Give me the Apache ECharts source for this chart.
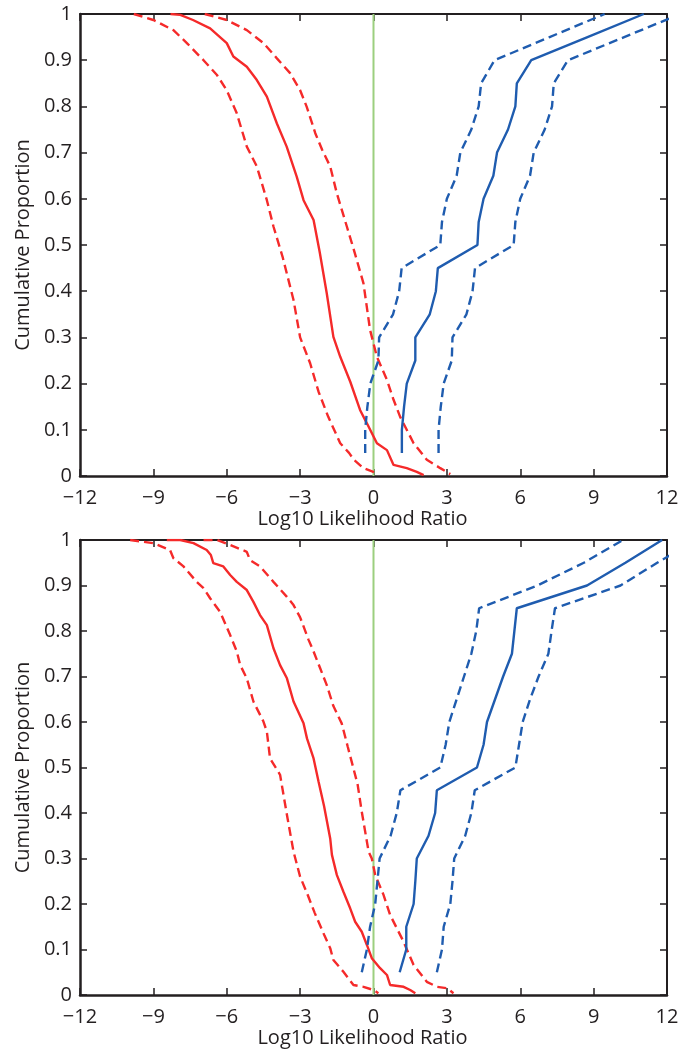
<!DOCTYPE html>
<html>
<head>
<meta charset="utf-8">
<script src="https://cdn.jsdelivr.net/npm/echarts@6/dist/echarts.min.js"></script>
<style>
html,body{margin:0;padding:0;background:#fff;}
#chart{width:699px;height:1051px;}
</style>
</head>
<body>
<div id="chart"></div>
<script>
// ---- data ----
const xTicks = [-12, -9, -6, -3, 0, 3, 6, 9, 12];
const referenceX = 0;

// Top panel: red empirical CDFs [x, proportion]
const topRedMid = [[-8.3,1],[-7.9,0.998],[-7.38,0.987],[-6.68,0.969],[-6.0,0.937],[-5.73,0.908],[-5.18,0.886],[-4.77,0.857],[-4.36,0.821],[-3.95,0.763],[-3.55,0.713],[-3.14,0.648],[-2.86,0.597],[-2.45,0.554],[-2.2,0.485],[-1.91,0.395],[-1.64,0.301],[-1.36,0.258],[-0.95,0.204],[-0.55,0.143],[-0.27,0.114],[0.14,0.071],[0.55,0.056],[0.82,0.024],[1.36,0.017],[1.77,0.009],[2.05,0.002]];
const topRedLo = [[-9.8,1],[-9.0,0.987],[-8.18,0.965],[-7.63,0.937],[-6.95,0.9],[-6.4,0.868],[-6.0,0.835],[-5.59,0.785],[-5.18,0.713],[-4.77,0.67],[-4.36,0.597],[-4.09,0.54],[-3.72,0.475],[-3.27,0.381],[-3.0,0.3],[-2.59,0.244],[-2.25,0.183],[-1.85,0.128],[-1.36,0.071],[-1.0,0.05],[-0.8,0.035],[-0.41,0.017],[0.14,0.006]];
const topRedHi = [[-6.9,1],[-6.0,0.987],[-5.18,0.965],[-4.5,0.937],[-3.95,0.904],[-3.41,0.872],[-3.0,0.835],[-2.73,0.799],[-2.38,0.742],[-2.1,0.706],[-1.77,0.67],[-1.5,0.612],[-1.09,0.54],[-0.8,0.489],[-0.41,0.417],[-0.14,0.316],[0.14,0.258],[0.55,0.208],[0.82,0.165],[1.09,0.128],[1.64,0.071],[2.18,0.035],[2.73,0.017],[3.14,0.004]];

// Blue CDFs sampled at these proportions
const blueP = [0.05,0.1,0.15,0.2,0.25,0.3,0.35,0.4,0.45,0.5,0.55,0.6,0.65,0.7,0.75,0.8,0.85,0.9,0.95,1.0];
const topBlueMid = [1.16,1.16,1.25,1.36,1.71,1.71,2.3,2.55,2.63,4.25,4.3,4.5,4.9,5.05,5.5,5.8,5.86,6.45,8.75,11.05];
const topBlueLo  = [-0.34,-0.34,-0.25,-0.13,0.2,0.23,0.8,1.05,1.15,2.73,2.8,3.0,3.4,3.55,4.0,4.3,4.4,4.95,7.2,9.45];
const topBlueHi  = [2.66,2.66,2.75,2.87,3.2,3.23,3.8,4.05,4.15,5.73,5.8,6.0,6.4,6.55,7.0,7.3,7.37,7.95,10.25,12.55];

// Bottom panel
const botRedMid = [[-8.45,1],[-7.9,1],[-7.36,0.993],[-6.82,0.978],[-6.65,0.967],[-6.55,0.949],[-6.14,0.942],[-5.86,0.923],[-5.59,0.908],[-5.18,0.89],[-4.91,0.864],[-4.64,0.835],[-4.36,0.813],[-4.09,0.762],[-3.82,0.725],[-3.54,0.696],[-3.27,0.645],[-2.86,0.597],[-2.72,0.564],[-2.45,0.52],[-2.25,0.47],[-2.02,0.415],[-1.77,0.344],[-1.7,0.308],[-1.5,0.264],[-1.23,0.227],[-0.95,0.19],[-0.75,0.161],[-0.48,0.139],[-0.27,0.11],[-0.07,0.081],[0.27,0.059],[0.55,0.044],[0.68,0.022],[1.23,0.018],[1.5,0.011],[1.71,0.004]];
const botRedLo = [[-9.95,1],[-9.0,0.993],[-8.32,0.978],[-8.18,0.96],[-7.77,0.942],[-7.23,0.908],[-6.95,0.894],[-6.68,0.872],[-6.27,0.842],[-5.86,0.791],[-5.59,0.755],[-5.45,0.725],[-5.18,0.696],[-4.91,0.645],[-4.5,0.601],[-4.36,0.579],[-4.23,0.52],[-3.82,0.484],[-3.54,0.396],[-3.27,0.315],[-3.0,0.26],[-2.72,0.224],[-2.4,0.18],[-2.0,0.13],[-1.77,0.103],[-1.64,0.077],[-1.23,0.051],[-0.82,0.022],[-0.41,0.018],[0,0.011],[0.2,0.004]];
const botRedHi = [[-6.95,1],[-6.4,1],[-5.86,0.989],[-5.18,0.974],[-5.05,0.956],[-4.64,0.942],[-4.09,0.908],[-3.54,0.875],[-3.27,0.857],[-3.0,0.83],[-2.65,0.78],[-2.45,0.755],[-2.18,0.718],[-1.91,0.681],[-1.64,0.635],[-1.3,0.597],[-1.05,0.545],[-0.82,0.498],[-0.65,0.463],[-0.48,0.403],[-0.2,0.315],[-0.07,0.3],[0.07,0.264],[0.41,0.22],[0.68,0.176],[0.95,0.147],[1.23,0.117],[1.64,0.066],[2.18,0.029],[2.59,0.018],[3.0,0.015],[3.27,0.004]];
const botBlueMid = [1.07,1.34,1.34,1.64,1.71,1.77,2.25,2.52,2.59,4.23,4.5,4.64,4.97,5.3,5.66,5.76,5.86,8.73,10.3,11.8];
const botBlueLo  = [-0.48,-0.27,-0.14,0.07,0.16,0.25,0.7,0.95,1.1,2.73,2.95,3.1,3.4,3.7,4.0,4.2,4.32,6.7,8.6,10.2];
const botBlueHi  = [2.59,2.8,2.87,3.14,3.23,3.3,3.75,4.0,4.14,5.8,5.95,6.1,6.4,6.75,7.15,7.28,7.42,10.1,11.6,13.2];

// ---- styling ----
const RED = '#f52a2a', BLUE = '#1f5caf', GREEN = '#9ccf7f', INK = '#231f20';
const FONT = 'Open Sans';
const minus = v => String(v).replace('-', '\u2212');
const zip = (xs, ps) => xs.map((x, i) => [x, ps[i]]);

const grids = [
  {left: 80, top: 14, width: 587, height: 462},
  {left: 80, top: 540, width: 587, height: 455}
];

function xAxes(gi) {
  return [
    {type:'value', gridIndex:gi, min:-12, max:12, interval:3, position:'bottom',
     axisLine:{onZero:false, lineStyle:{color:INK, width:2.5}},
     axisTick:{inside:true, length:7, lineStyle:{color:INK, width:1.5}},
     axisLabel:{formatter:minus, color:INK, fontSize:20, fontFamily:FONT, margin:12},
     splitLine:{show:false},
     name:'Log10 Likelihood Ratio', nameLocation:'middle', nameGap:32,
     nameTextStyle:{color:INK, fontSize:20, fontFamily:FONT, padding:[0,22,0,0]}},
    {type:'value', gridIndex:gi, min:-12, max:12, interval:3, position:'top',
     axisLine:{onZero:false, lineStyle:{color:INK, width:2}},
     axisTick:{inside:true, length:7, lineStyle:{color:INK, width:1.5}},
     axisLabel:{show:false}, splitLine:{show:false}}
  ];
}
function yAxes(gi) {
  return [
    {type:'value', gridIndex:gi, min:0, max:1, interval:0.1, position:'left',
     axisLine:{onZero:false, lineStyle:{color:INK, width:2.5}},
     axisTick:{inside:true, length:7, lineStyle:{color:INK, width:1.5}},
     axisLabel:{color:INK, fontSize:20, fontFamily:FONT, margin:8},
     splitLine:{show:false},
     name:'Cumulative Proportion', nameLocation:'middle', nameGap:46,
     nameTextStyle:{color:INK, fontSize:20, fontFamily:FONT}},
    {type:'value', gridIndex:gi, min:0, max:1, interval:0.1, position:'right',
     axisLine:{onZero:false, lineStyle:{color:INK, width:2}},
     axisTick:{inside:true, length:7, lineStyle:{color:INK, width:1.5}},
     axisLabel:{show:false}, splitLine:{show:false}}
  ];
}

function line(gi, data, color, dashed, width) {
  return {type:'line', xAxisIndex:gi*2, yAxisIndex:gi*2, data:data, symbol:'none',
          animation:false, clip:true,
          lineStyle:{color:color, width:width || 2.4, type: dashed ? [9,5] : 'solid'}};
}
function panel(gi, rMid, rLo, rHi, bMid, bLo, bHi) {
  return [
    line(gi, [[referenceX,0],[referenceX,1]], GREEN, false, 2),
    line(gi, rLo, RED, true), line(gi, rHi, RED, true), line(gi, rMid, RED, false),
    line(gi, zip(bLo, blueP), BLUE, true), line(gi, zip(bHi, blueP), BLUE, true),
    line(gi, zip(bMid, blueP), BLUE, false)
  ];
}

const chart = echarts.init(document.getElementById('chart'), null, {renderer:'canvas'});
chart.setOption({
  animation:false,
  backgroundColor:'#fff',
  grid: grids,
  xAxis: [...xAxes(0), ...xAxes(1)],
  yAxis: [...yAxes(0), ...yAxes(1)],
  series: [
    ...panel(0, topRedMid, topRedLo, topRedHi, topBlueMid, topBlueLo, topBlueHi),
    ...panel(1, botRedMid, botRedLo, botRedHi, botBlueMid, botBlueLo, botBlueHi)
  ]
});
</script>
</body>
</html>
